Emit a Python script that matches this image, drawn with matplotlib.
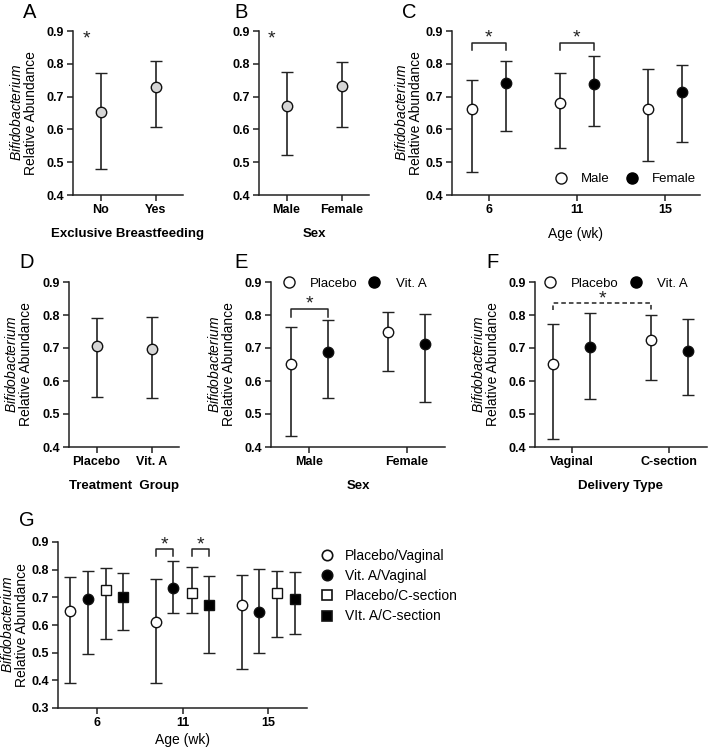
import numpy as np
import matplotlib
matplotlib.use('Agg')
import matplotlib.pyplot as plt
from matplotlib.lines import Line2D

plt.rcParams['font.family'] = ['Liberation Sans', 'DejaVu Sans']
plt.rcParams['mathtext.fontset'] = 'custom'
plt.rcParams['mathtext.it'] = 'Liberation Sans:italic'
plt.rcParams['mathtext.rm'] = 'Liberation Sans'

# ---- data (mean, lower, upper) ----
# A: exclusive breastfeeding
ebf_groups = ['No', 'Yes']
ebf_mean = [0.652, 0.728]
ebf_lo = [0.480, 0.607]
ebf_hi = [0.772, 0.810]

# B: sex
sex_groups = ['Male', 'Female']
sex_mean = [0.672, 0.733]
sex_lo = [0.521, 0.606]
sex_hi = [0.775, 0.805]

# C: age x sex
ages = ['6', '11', '15']
male_mean = [0.663, 0.680, 0.662]
male_lo = [0.470, 0.543, 0.505]
male_hi = [0.752, 0.773, 0.785]
female_mean = [0.741, 0.739, 0.713]
female_lo = [0.596, 0.610, 0.561]
female_hi = [0.810, 0.825, 0.795]

# D: treatment group
trt_groups = ['Placebo', 'Vit. A']
trt_mean = [0.706, 0.696]
trt_lo = [0.551, 0.547]
trt_hi = [0.792, 0.795]

# E: sex x treatment
e_groups = ['Male', 'Female']
e_plac_mean = [0.652, 0.748]
e_plac_lo = [0.434, 0.629]
e_plac_hi = [0.765, 0.810]
e_vita_mean = [0.689, 0.713]
e_vita_lo = [0.549, 0.537]
e_vita_hi = [0.784, 0.803]

# F: delivery x treatment
f_groups = ['Vaginal', 'C-section']
f_plac_mean = [0.651, 0.723]
f_plac_lo = [0.423, 0.604]
f_plac_hi = [0.772, 0.801]
f_vita_mean = [0.703, 0.691]
f_vita_lo = [0.544, 0.557]
f_vita_hi = [0.806, 0.788]

# G: age x treatment/delivery
g_labels = ['Placebo/Vaginal', 'Vit. A/Vaginal', 'Placebo/C-section', 'VIt. A/C-section']
g_mean = [[0.652, 0.612, 0.672],
          [0.694, 0.735, 0.648],
          [0.727, 0.716, 0.717],
          [0.700, 0.674, 0.694]]
g_lo = [[0.390, 0.390, 0.441],
        [0.494, 0.642, 0.500],
        [0.550, 0.644, 0.556],
        [0.581, 0.500, 0.569]]
g_hi = [[0.773, 0.768, 0.779],
        [0.796, 0.831, 0.801],
        [0.805, 0.811, 0.796],
        [0.789, 0.776, 0.790]]

W, H = 708, 753
fig = plt.figure(figsize=(W / 100, H / 100), dpi=100)

LC = '#222222'
GREY = '#d6d6d6'
YLAB = '$\\mathit{Bifidobacterium}$\nRelative Abundance'
TFS = 9      # tick labels
LFS = 10     # axis labels


def add_ax(l, t, r, b):
    return fig.add_axes([l / W, 1 - b / H, (r - l) / W, (b - t) / H])


def style(ax, xt, xlabels, ylim=(0.4, 0.9), ystep=0.1):
    for s in ['top', 'right']:
        ax.spines[s].set_visible(False)
    for s in ['left', 'bottom']:
        ax.spines[s].set_linewidth(1.1)
        ax.spines[s].set_color(LC)
    yt = np.arange(ylim[0], ylim[1] + 1e-9, ystep)
    ax.set_ylim(ylim)
    ax.set_yticks(yt)
    ax.set_yticklabels(['%.1f' % v for v in yt], fontweight='bold', fontsize=TFS)
    ax.set_xticks(xt)
    ax.set_xticklabels(xlabels, fontweight='bold', fontsize=TFS)
    ax.tick_params(width=1.1, length=4.3, color=LC, pad=2)


def ylab(ax, pad):
    ax.set_ylabel(YLAB, fontsize=LFS, labelpad=pad, linespacing=1.0)


def ebar(ax, x, m, lo, hi, marker='o', mfc='white', ms=7.5):
    m = np.asarray(m)
    err = [m - np.asarray(lo), np.asarray(hi) - m]
    ax.errorbar(x, m, yerr=err, fmt=marker, ms=ms, mfc=mfc, mec='#111111', mew=1.0,
                ecolor=LC, elinewidth=1.2, capsize=4.5, capthick=1.2, zorder=3)


def bracket(ax, x0, x1, ytop, ybot, ls='-'):
    ax.plot([x0, x0, x1, x1], [ybot, ytop, ytop, ybot], color=LC, lw=1.1, ls=ls,
            clip_on=False)


def star(ax, x, y):
    ax.text(x, y, '*', ha='center', va='center', fontsize=14, color=LC)


def two_legend(ax, labels, anchor, loc, tp, cs):
    h = [Line2D([], [], marker='o', ls='none', mfc='white', mec='#111111', ms=8, mew=1.0),
         Line2D([], [], marker='o', ls='none', mfc='black', mec='black', ms=8)]
    ax.legend(h, labels, ncol=2, loc=loc, bbox_to_anchor=anchor, frameon=False,
              fontsize=9.5, handlelength=1.0, handletextpad=tp, columnspacing=cs,
              borderpad=0, borderaxespad=0)


# ---- A ----
ax = add_ax(73, 31, 183, 195)
x = np.arange(len(ebf_groups))
ebar(ax, x, ebf_mean, ebf_lo, ebf_hi, mfc=GREY)
style(ax, x, ebf_groups)
ax.set_xlim(-0.5, 1.5)
ylab(ax, 6)
ax.set_xlabel('Exclusive Breastfeeding', fontweight='bold', fontsize=9.5, labelpad=9)
star(ax, -0.26, 0.875)

# ---- B ----
ax = add_ax(259, 31, 369, 195)
x = np.arange(len(sex_groups))
ebar(ax, x, sex_mean, sex_lo, sex_hi, mfc=GREY)
style(ax, x, sex_groups)
ax.set_xlim(-0.5, 1.5)
ax.set_xlabel('Sex', fontweight='bold', fontsize=9.5, labelpad=9)
star(ax, -0.28, 0.875)

# ---- C ----
ax = add_ax(452, 31, 700, 195)
x = np.arange(len(ages))
off = 0.19
ebar(ax, x - off, male_mean, male_lo, male_hi, mfc='white')
ebar(ax, x + off, female_mean, female_lo, female_hi, mfc='black')
style(ax, x, ages)
ax.set_xlim(-0.42, 2.4)
ylab(ax, 2)
ax.set_xlabel('Age (wk)', fontsize=LFS, labelpad=8)
for i in [0, 1]:
    bracket(ax, x[i] - off, x[i] + off, 0.864, 0.842)
    star(ax, x[i], 0.878)
two_legend(ax, ['Male', 'Female'], (0.985, 0.06), 'lower right', 1.0, 1.2)

# ---- D ----
ax = add_ax(69, 282, 179, 447)
x = np.arange(len(trt_groups))
ebar(ax, x, trt_mean, trt_lo, trt_hi, mfc=GREY)
style(ax, x, trt_groups)
ax.set_xlim(-0.5, 1.5)
ylab(ax, 7)
ax.set_xlabel('Treatment  Group', fontweight='bold', fontsize=9.5, labelpad=9)

# ---- E ----
ax = add_ax(271, 282, 445, 447)
x = np.arange(len(e_groups))
off = 0.19
ebar(ax, x - off, e_plac_mean, e_plac_lo, e_plac_hi, mfc='white')
ebar(ax, x + off, e_vita_mean, e_vita_lo, e_vita_hi, mfc='black')
style(ax, x, e_groups)
ax.set_xlim(-0.39, 1.39)
ylab(ax, 6)
ax.set_xlabel('Sex', fontweight='bold', fontsize=9.5, labelpad=9)
bracket(ax, x[0] - off, x[0] + off, 0.818, 0.795)
star(ax, x[0], 0.832)
two_legend(ax, ['Placebo', 'Vit. A'], (0.063, 0.99), 'center left', 1.1, 0.8)

# ---- F ----
ax = add_ax(535, 282, 707, 447)
x = np.arange(len(f_groups))
ebar(ax, x - off, f_plac_mean, f_plac_lo, f_plac_hi, mfc='white')
ebar(ax, x + off, f_vita_mean, f_vita_lo, f_vita_hi, mfc='black')
style(ax, x, f_groups)
ax.set_xlim(-0.38, 1.39)
ylab(ax, 6)
ax.set_xlabel('Delivery Type', fontweight='bold', fontsize=9.5, labelpad=9)
bracket(ax, x[0] - off, x[1] - off, 0.836, 0.816, ls=(0, (3, 2)))
star(ax, (x[0] + x[1]) / 2 - off, 0.85)
two_legend(ax, ['Placebo', 'Vit. A'], (0.05, 0.99), 'center left', 1.1, 0.8)

# ---- G ----
ax = add_ax(58, 542, 307, 708)
x = np.arange(len(ages))
g_off = [-0.31, -0.11, 0.11, 0.31]
g_mk = ['o', 'o', 's', 's']
g_fc = ['white', 'black', 'white', 'black']
g_ms = [7.5, 7.5, 6.5, 6.5]
for k in range(4):
    ebar(ax, x + g_off[k], g_mean[k], g_lo[k], g_hi[k], marker=g_mk[k], mfc=g_fc[k], ms=g_ms[k])
style(ax, x, ages, ylim=(0.3, 0.9))
ax.set_xlim(-0.456, 2.456)
ylab(ax, 2)
ax.set_xlabel('Age (wk)', fontsize=LFS, labelpad=3)
bracket(ax, x[1] + g_off[0], x[1] + g_off[1], 0.875, 0.848)
bracket(ax, x[1] + g_off[2], x[1] + g_off[3], 0.875, 0.848)
star(ax, x[1] + (g_off[0] + g_off[1]) / 2, 0.89)
star(ax, x[1] + (g_off[2] + g_off[3]) / 2, 0.89)
gh = [Line2D([], [], marker=g_mk[k], ls='none', mfc=g_fc[k], mec='#111111', mew=1.2,
             ms=g_ms[k]) for k in range(4)]
ax.legend(gh, g_labels, loc='upper left', bbox_to_anchor=(1.052, 0.96), frameon=False,
          fontsize=10, handlelength=1.0, handletextpad=0.8, labelspacing=0.45,
          borderpad=0, borderaxespad=0)

# ---- panel letters ----
for lab, px, py in [('A', 30, 13), ('B', 241, 13), ('C', 409, 13),
                    ('D', 27, 263), ('E', 241, 263), ('F', 492, 263), ('G', 27, 521)]:
    fig.text(px / W, 1 - py / H, lab, fontsize=14.5, ha='center', va='center')

fig.savefig('out.png', dpi=100)
